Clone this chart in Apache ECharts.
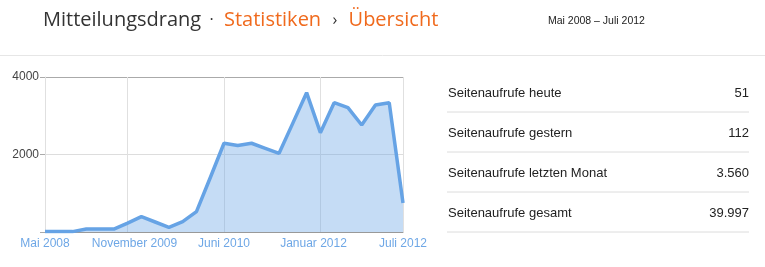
<!DOCTYPE html>
<html>
<head>
<meta charset="utf-8">
<script src="https://cdn.jsdelivr.net/npm/echarts@6/dist/echarts.min.js"></script>
<style>
html,body{margin:0;padding:0;background:#fff;}
#c{width:765px;height:267px;}
</style>
</head>
<body>
<div id="c"></div>
<script>
// ---- data ----
var categories = ['1','2','3','4','5','6','7','8','9','10','11','12','13','14','15','16','17','18','19','20','21','22','23','24','25','26','27'];
var pageViews = [10,10,10,75,75,75,230,395,258,121,266,524,1400,2290,2230,2290,2160,2030,2810,3595,2563,3337,3208,2761,3277,3337,750];
var tickLabels = ['Mai 2008','November 2009','Juni 2010','Januar 2012','Juli 2012'];
var gridIndexes = [0,6,13,20,26];
var yTicks = [0,2000,4000];
var statLabels = ['Seitenaufrufe heute','Seitenaufrufe gestern','Seitenaufrufe letzten Monat','Seitenaufrufe gesamt'];
var statValues = ['51','112','3.560','39.997'];
var titleMain = 'Mitteilungsdrang';
var titleCrumb1 = 'Statistiken';
var titleCrumb2 = 'Übersicht';
var dateRange = 'Mai 2008 – Juli 2012';

var sans = 'Liberation Sans, Arial, sans-serif';
var chart = echarts.init(document.getElementById('c'), null, {renderer:'canvas'});

var graphics = [
  {type:'line', shape:{x1:0,y1:55.5,x2:765,y2:55.5}, style:{stroke:'#e6e6e6', lineWidth:1}, silent:true},
  {type:'text', left:43, top:10, style:{
    text:'{a|'+titleMain+'}{d|  ·  }{o|'+titleCrumb1+'}{g|  ›  }{o|'+titleCrumb2+'}',
    rich:{
      a:{fontFamily:'Open Sans', fontSize:20, fill:'#333'},
      d:{fontFamily:'Open Sans', fontSize:16, fill:'#333', padding:[0,2,0,0]},
      g:{fontFamily:'Open Sans', fontSize:16, fill:'#333', padding:[0,3,0,3]},
      o:{fontFamily:'Open Sans', fontSize:20, fill:'#f06a1d'}
    }}},
  {type:'text', left:548, top:16, style:{text:dateRange, fontFamily:'Liberation Sans Narrow, Arial Narrow, sans-serif', fontSize:10.5, fill:'#222'}}
];
for (var i=0;i<statLabels.length;i++){
  var yc = 93 + i*40;
  graphics.push({type:'text', x:448, y:yc, style:{text:statLabels[i], fontFamily:sans, fontSize:13, fill:'#222', textAlign:'left', textVerticalAlign:'middle'}});
  graphics.push({type:'text', x:749, y:yc, style:{text:statValues[i], fontFamily:sans, fontSize:13, fill:'#222', textAlign:'right', textVerticalAlign:'middle'}});
  graphics.push({type:'line', shape:{x1:447,y1:yc+19,x2:749,y2:yc+19}, style:{stroke:'#dcdcdc', lineWidth:1}, silent:true});
}

chart.setOption({
  animation:false,
  backgroundColor:'#fff',
  grid:{left:45, right:362, top:77, bottom:35, containLabel:false},
  graphic: graphics,
  xAxis:[{
    type:'category', data:categories, boundaryGap:false, position:'bottom',
    axisLine:{show:true, lineStyle:{color:'#999', width:1}},
    axisTick:{show:false},
    axisLabel:{show:false},
    splitLine:{show:true, interval:function(idx){return gridIndexes.indexOf(idx)>=0;}, lineStyle:{color:'#e0e0e0', width:1}}
  },{
    type:'value', min:0, max:26, interval:6.5, position:'bottom',
    axisLine:{show:false}, axisTick:{show:false}, splitLine:{show:false},
    axisLabel:{show:true, color:'#6ea7e6', fontFamily:sans, fontSize:12, margin:6, showMinLabel:true, showMaxLabel:true,
      formatter:function(v){return tickLabels[Math.round(v/6.5)];}}
  }],
  yAxis:{
    type:'value', min:yTicks[0], max:yTicks[2], interval:yTicks[1]-yTicks[0],
    axisLine:{show:true, lineStyle:{color:'#e0e0e0'}},
    axisTick:{show:true, length:5, lineStyle:{color:'#aaa'}},
    axisLabel:{color:'#444', fontFamily:sans, fontSize:12, margin:6, formatter:function(v){return v===0?'':String(v);}},
    splitLine:{show:true, lineStyle:{color:['#999','#ddd','#aaa'], width:1}}
  },
  series:[{
    type:'line', data:pageViews, xAxisIndex:0, symbol:'none', smooth:false,
    lineStyle:{color:'#66a3e5', width:3.5},
    areaStyle:{color:'#66a3e5', opacity:0.38},
    z:3
  }]
});
</script>
</body>
</html>
